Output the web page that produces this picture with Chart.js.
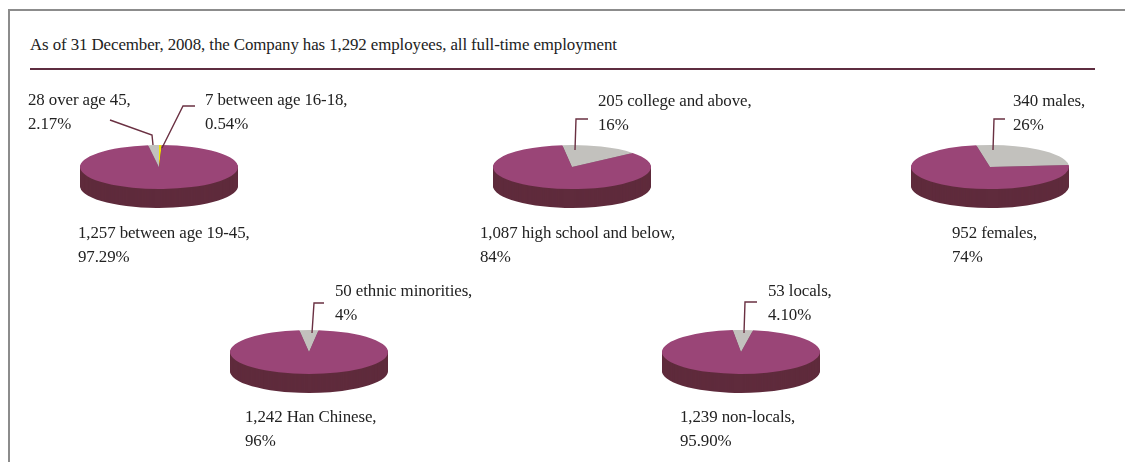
<!DOCTYPE html>
<html>
<head>
<meta charset="utf-8">
<script src="https://cdn.jsdelivr.net/npm/chart.js@4/dist/chart.umd.min.js"></script>
<style>
  html, body { margin: 0; padding: 0; background: #fff; }
  body { width: 1125px; height: 462px; position: relative; overflow: hidden;
         font-family: "Liberation Serif", "DejaVu Serif", serif; color: #222; }
  #frame { position: absolute; left: 8px; top: 9px; width: 1200px; height: 500px;
           border-top: 2px solid #8c8c8c; border-left: 2px solid #8c8c8c; }
  #title { position: absolute; left: 30px; top: 35px; font-size: 16.9px; white-space: nowrap; letter-spacing: -0.1px; }
  #rule { position: absolute; left: 30px; top: 68px; width: 1065px; height: 2px; background: #5e2d40; }
  canvas { position: absolute; }
  .lbl { position: absolute; font-size: 16.9px; line-height: 24px; white-space: nowrap; z-index: 2; letter-spacing: -0.1px; }
</style>
</head>
<body>
<div id="frame"></div>
<div id="title">As of 31 December, 2008, the Company has 1,292 employees, all full-time employment</div>
<div id="rule"></div>

<script>
// ---- data ----
const totalEmployees = 1292;

const ageGroups  = ['between age 16-18', 'between age 19-45', 'over age 45'];
const ageCounts  = [7, 1257, 28];
const agePct     = ['0.54%', '97.29%', '2.17%'];

const eduGroups  = ['college and above', 'high school and below'];
const eduCounts  = [205, 1087];
const eduPct     = ['16%', '84%'];

const genderGroups = ['males', 'females'];
const genderCounts = [340, 952];
const genderPct    = ['26%', '74%'];

const ethnicGroups = ['ethnic minorities', 'Han Chinese'];
const ethnicCounts = [50, 1242];
const ethnicPct    = ['4%', '96%'];

const originGroups = ['locals', 'non-locals'];
const originCounts = [53, 1239];
const originPct    = ['4.10%', '95.90%'];

// ---- styling ----
const PURPLE = '#9a4577', PURPLE_SIDE = '#5f2b3c';
const GREY = '#c2c1bd', GREY_SIDE = '#8a8986';
const YELLOW = '#f2e400', YELLOW_SIDE = '#a89e00';
const LEADER = '#6a3042';

const RX = 79, RY = 22, DEPTH = 19;
const SQUASH = RY / RX;
const BOX_W = 220, BOX_H = 150;

// each pie: centre on the page, starting angle, slice colours, labels and leader paths
const pies = [
  { cx: 159, cy: 167, rotation: 0,
    groups: ageGroups, counts: ageCounts, pct: agePct,
    colors: [YELLOW, PURPLE, GREY], sides: [YELLOW_SIDE, PURPLE_SIDE, GREY_SIDE],
    labels: [ { i: 2, x: 28,  y: 88 }, { i: 0, x: 205, y: 88 }, { i: 1, x: 78, y: 221 } ],
    leaders: [ [[-49,-47],[-7,-32],[-6,-22]], [[36,-61],[24,-61],[3,-19]] ] },
  { cx: 572, cy: 167, rotation: -7,
    groups: eduGroups, counts: eduCounts, pct: eduPct,
    colors: [GREY, PURPLE], sides: [GREY_SIDE, PURPLE_SIDE],
    labels: [ { i: 0, x: 598, y: 89 }, { i: 1, x: 480, y: 221 } ],
    leaders: [ [[16,-48],[4,-48],[3,-17]] ] },
  { cx: 990, cy: 167, rotation: -10,
    groups: genderGroups, counts: genderCounts, pct: genderPct,
    colors: [GREY, PURPLE], sides: [GREY_SIDE, PURPLE_SIDE],
    labels: [ { i: 0, x: 1013, y: 89 }, { i: 1, x: 952, y: 221 } ],
    leaders: [ [[15,-48],[4,-48],[3,-17]] ] },
  { cx: 309, cy: 352, rotation: -7,
    groups: ethnicGroups, counts: ethnicCounts, pct: ethnicPct,
    colors: [GREY, PURPLE], sides: [GREY_SIDE, PURPLE_SIDE],
    labels: [ { i: 0, x: 335, y: 279 }, { i: 1, x: 245, y: 405 } ],
    leaders: [ [[15,-49],[5,-49],[3,-19]] ] },
  { cx: 741, cy: 352, rotation: -6,
    groups: originGroups, counts: originCounts, pct: originPct,
    colors: [GREY, PURPLE], sides: [GREY_SIDE, PURPLE_SIDE],
    labels: [ { i: 0, x: 768, y: 279 }, { i: 1, x: 680, y: 405 } ],
    leaders: [ [[16,-50],[4,-50],[3,-19]] ] }
];

// Tilts the pie into an ellipse, adds the extruded side and the leader lines
const tiltPlugin = {
  id: 'tilt3d',
  beforeDatasetsDraw(chart, args, opts) {
    const ctx = chart.ctx;
    const arcs = chart.getDatasetMeta(0).data;
    if (!arcs.length) return;
    const cx = arcs[0].x, cy = arcs[0].y;
    // side wall: stacked copies of the slices, shifted downwards
    for (let k = opts.depth; k >= 1; k--) {
      ctx.save();
      ctx.translate(cx, cy + k);
      ctx.scale(1, SQUASH);
      ctx.translate(-cx, -cy);
      arcs.forEach((a, idx) => {
        const p = a.getProps(['x', 'y', 'startAngle', 'endAngle', 'outerRadius']);
        ctx.beginPath();
        ctx.moveTo(p.x, p.y);
        ctx.arc(p.x, p.y, p.outerRadius, p.startAngle, p.endAngle);
        ctx.closePath();
        ctx.fillStyle = opts.sides[idx];
        ctx.fill();
      });
      ctx.restore();
    }
    ctx.save();
    ctx.translate(cx, cy);
    ctx.scale(1, SQUASH);
    ctx.translate(-cx, -cy);
  },
  afterDatasetsDraw(chart) {
    chart.ctx.restore();
  },
  afterDraw(chart, args, opts) {
    const ctx = chart.ctx;
    const a = chart.getDatasetMeta(0).data[0];
    if (!a) return;
    ctx.save();
    ctx.strokeStyle = LEADER;
    ctx.lineWidth = 1.4;
    opts.leaders.forEach(path => {
      ctx.beginPath();
      path.forEach(([dx, dy], j) => {
        if (j === 0) ctx.moveTo(a.x + dx, a.y + dy);
        else ctx.lineTo(a.x + dx, a.y + dy);
      });
      ctx.stroke();
    });
    ctx.restore();
  }
};

const fmt = n => n.toLocaleString('en-US');

pies.forEach(p => {
  const cv = document.createElement('canvas');
  cv.width = BOX_W; cv.height = BOX_H;
  cv.style.left = (p.cx - BOX_W / 2) + 'px';
  cv.style.top = (p.cy - BOX_H / 2) + 'px';
  document.body.appendChild(cv);

  new Chart(cv, {
    type: 'pie',
    data: {
      labels: p.groups,
      datasets: [{
        data: p.counts,
        backgroundColor: p.colors,
        borderWidth: 0,
        clip: false
      }]
    },
    options: {
      responsive: false,
      animation: false,
      events: [],
      radius: RX,
      rotation: p.rotation,
      layout: { padding: 0 },
      plugins: {
        legend: { display: false },
        tooltip: { enabled: false },
        tilt3d: { depth: DEPTH, sides: p.sides, leaders: p.leaders }
      }
    },
    plugins: [tiltPlugin]
  });

  p.labels.forEach(l => {
    const d = document.createElement('div');
    d.className = 'lbl';
    d.style.left = l.x + 'px';
    d.style.top = l.y + 'px';
    d.innerHTML = fmt(p.counts[l.i]) + ' ' + p.groups[l.i] + ',<br>' + p.pct[l.i];
    document.body.appendChild(d);
  });
});
</script>
</body>
</html>
